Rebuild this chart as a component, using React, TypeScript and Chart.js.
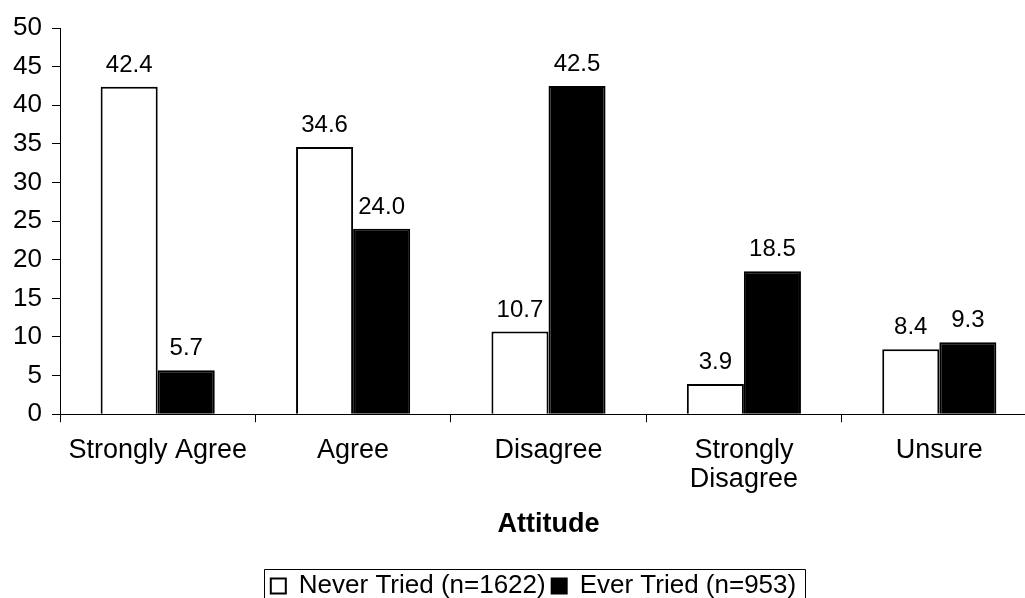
import React, { useEffect, useRef } from 'react';
import { Chart, registerables } from 'chart.js';

Chart.register(...registerables);

const categories: (string | string[])[] = ['Strongly Agree', 'Agree', 'Disagree', ['Strongly', 'Disagree'], 'Unsure'];
const neverTried: number[] = [42.4, 34.6, 10.7, 3.9, 8.4];
const everTried: number[] = [5.7, 24.0, 42.5, 18.5, 9.3];
const seriesNames: string[] = ['Never Tried (n=1622)', 'Ever Tried (n=953)'];
const yMin = 0;
const yMax = 50;
const yStep = 5;
const xTitle = 'Attitude';

const FONT = "'Liberation Sans', Arial, Helvetica, sans-serif";
const LEGEND_PAD = 6;
const LEGEND_CENTER = 533.5;

const dataLabels = {
  id: 'dataLabels',
  afterDatasetsDraw(chart: any) {
    const ctx = chart.ctx;
    ctx.save();
    ctx.fillStyle = '#000';
    ctx.font = `24px ${FONT}`;
    ctx.textAlign = 'center';
    ctx.textBaseline = 'alphabetic';
    chart.data.datasets.forEach((ds: any, di: number) => {
      const meta = chart.getDatasetMeta(di);
      meta.data.forEach((bar: any, i: number) => {
        const v = ds.data[i] as number;
        ctx.fillText(v.toFixed(1), bar.x, bar.y - 15);
      });
    });
    ctx.restore();
  },
};

const legendFrame = {
  id: 'legendFrame',
  afterLayout(chart: any) {
    const lg = chart.legend;
    if (!lg) return;
    const dx = LEGEND_CENTER - (lg.left + lg.right) / 2;
    lg.left += dx;
    lg.right += dx;
  },
  afterDraw(chart: any) {
    const lg = chart.legend;
    if (!lg || !lg.lineWidths) return;
    const W = lg.lineWidths[0];
    const start = (lg.left + LEGEND_PAD + lg.right - W) / 2;
    const end = start + W - LEGEND_PAD;
    const textCenter = lg.top + LEGEND_PAD + 13;
    const ctx = chart.ctx;
    ctx.save();
    ctx.strokeStyle = '#000';
    ctx.lineWidth = 1;
    const left = Math.round(start - 7) + 0.5;
    const right = Math.round(end + 9) + 0.5;
    const top = Math.round(textCenter - 17) + 0.5;
    const bottom = chart.height + 5;
    ctx.beginPath();
    ctx.moveTo(left, bottom);
    ctx.lineTo(left, top);
    ctx.lineTo(right, top);
    ctx.lineTo(right, bottom);
    ctx.stroke();
    ctx.restore();
  },
};

export default function App() {
  const ref = useRef<HTMLCanvasElement | null>(null);

  useEffect(() => {
    if (!ref.current) return;
    const chart = new Chart(ref.current, {
      type: 'bar',
      data: {
        labels: categories,
        datasets: [
          {
            label: seriesNames[0],
            data: neverTried,
            backgroundColor: '#ffffff',
            borderColor: '#000000',
            borderWidth: 2,
            categoryPercentage: 0.584,
            barPercentage: 1,
          },
          {
            label: seriesNames[1],
            data: everTried,
            backgroundColor: '#000000',
            borderColor: '#000000',
            borderWidth: 2,
            categoryPercentage: 0.584,
            barPercentage: 1,
          },
        ],
      },
      options: {
        responsive: false,
        animation: false,
        devicePixelRatio: 1,
        layout: { padding: { left: 0, right: 8, top: 28, bottom: 1 } },
        plugins: {
          tooltip: { enabled: false },
          legend: {
            display: true,
            position: 'bottom',
            labels: {
              color: '#000',
              font: { family: FONT, size: 26 },
              boxWidth: 15,
              boxHeight: 15,
              padding: LEGEND_PAD,
            },
          },
        },
        scales: {
          x: {
            grid: { drawOnChartArea: false, color: '#000', tickLength: 8, offset: true, lineWidth: 1 },
            border: { color: '#000', width: 1 },
            ticks: {
              color: '#000',
              font: { family: FONT, size: 27, lineHeight: 1.1 },
              padding: 13,
              maxRotation: 0,
              minRotation: 0,
              autoSkip: false,
            },
            title: {
              display: true,
              text: xTitle,
              color: '#000',
              font: { family: FONT, size: 27, weight: 'bold', lineHeight: 1.2 },
              padding: { top: 1, bottom: 26 },
            },
          },
          y: {
            min: yMin,
            max: yMax,
            grid: { drawOnChartArea: false, color: '#000', tickLength: 8, lineWidth: 1 },
            border: { color: '#000', width: 1 },
            ticks: {
              stepSize: yStep,
              color: '#000',
              font: { family: FONT, size: 26 },
              padding: 10,
            },
            afterFit: (scale: any) => {
              scale.width = 60;
            },
          },
        },
      },
      plugins: [dataLabels, legendFrame],
    });
    return () => chart.destroy();
  }, []);

  return (
    <div
      style={{
        position: 'fixed',
        left: 0,
        top: 0,
        width: 1025,
        height: 598,
        overflow: 'hidden',
        background: '#ffffff',
      }}
    >
      <canvas ref={ref} width={1045} height={610} style={{ display: 'block' }} />
    </div>
  );
}
